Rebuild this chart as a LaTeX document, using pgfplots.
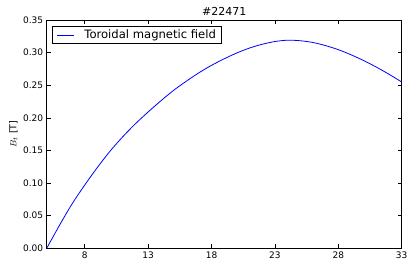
\documentclass[border=0pt]{standalone}
\usepackage{pgfplots}
\pgfplotsset{compat=1.18}
\usepackage{fontspec}
\setmainfont{DejaVu Sans}
\definecolor{mplblue}{rgb}{0,0,1}
\pgfplotstableread{
x y
5 0.000
6 0.035
7 0.068
8 0.097
9 0.124
10 0.149
11 0.171
12 0.191
13 0.209
14 0.226
15 0.242
16 0.256
17 0.269
18 0.2805
19 0.2905
20 0.2995
21 0.3070
22 0.3128
23 0.3170
24 0.3190
25 0.3182
26 0.3155
27 0.3107
28 0.3045
29 0.2967
30 0.2878
31 0.2778
32 0.2668
33 0.2550
}\bfield
\begin{document}
\begin{tikzpicture}
\begin{axis}[
  scale only axis, width=355pt, height=228.3pt,
  xmin=5, xmax=33, ymin=0, ymax=0.35,
  xtick={8,13,18,23,28,33},
  ytick={0,0.05,0.10,0.15,0.20,0.25,0.30,0.35},
  yticklabel style={/pgf/number format/.cd, fixed, fixed zerofill, precision=2},
  /pgf/number format/assume math mode=true,
  tick label style={font=\fontsize{9}{10}\selectfont},
  tick align=inside, tick pos=both, major tick length=4pt,
  axis line style={black, line width=0.6pt},
  every tick/.style={black, line width=0.5pt},
  ylabel={$B_t$ [T]},
  ylabel style={at={(axis description cs:-0.094,0.5)}, anchor=center, font=\fontsize{9.5}{10}\selectfont},
  title={\#22471},
  title style={at={(axis description cs:0.5,1)}, anchor=base, yshift=-2pt, font=\fontsize{11}{12}\selectfont},
  legend style={at={(axis description cs:0,1)}, anchor=north west, xshift=5.6pt, yshift=-6pt,
    draw=black, line width=0.6pt, font=\fontsize{11.6}{12}\selectfont, inner xsep=2pt, inner ysep=1.5pt,
    nodes={inner xsep=3pt}},
  legend cell align=left,
  legend image code/.code={%
    \pgfsetlinewidth{0.8pt}\pgfsetstrokecolor{mplblue}%
    \pgfpathmoveto{\pgfpoint{2pt}{0pt}}\pgfpathlineto{\pgfpoint{19pt}{0pt}}\pgfusepath{stroke}%
    \path (0pt,0pt) (26pt,0pt);},
]
\addplot[mplblue, line width=0.8pt, smooth] table[x=x, y=y] {\bfield};
\addlegendentry{Toroidal magnetic field}
\end{axis}
\pgfresetboundingbox
\useasboundingbox (current axis.south west) ++(-46.7pt,-12.7pt) rectangle ([shift={(6.3pt,20pt)}]current axis.north east);
\end{tikzpicture}
\end{document}
